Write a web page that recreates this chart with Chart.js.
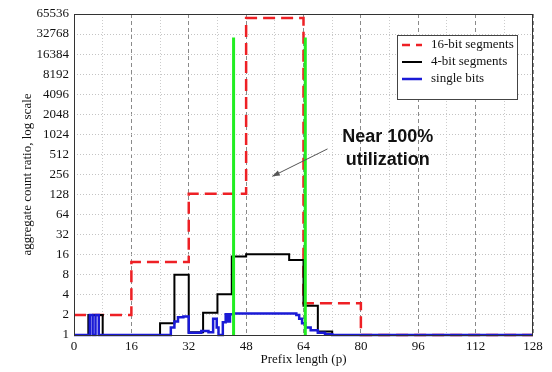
<!DOCTYPE html>
<html>
<head>
<meta charset="utf-8">
<script src="https://cdn.jsdelivr.net/npm/chart.js@4.4.1/dist/chart.umd.min.js"></script>
<style>
  html, body { margin: 0; padding: 0; background: #fff; }
  #wrap { width: 552px; height: 372px; }
</style>
</head>
<body>
<div id="wrap"><canvas id="prefixChart" width="552" height="372"></canvas></div>
<script>
// values: x = prefix length where a step starts, y = ratio
const yTicks = [1, 2, 4, 8, 16, 32, 64, 128, 256, 512, 1024, 2048, 4096, 8192, 16384, 32768, 65536];

const redX = [0, 16, 32, 48, 64, 80, 128];
const redY = [2, 12.5, 132, 57000, 3, 1, 1];

const blackX = [0, 4, 8, 24, 28, 32, 36, 40, 44, 48, 60, 64, 68, 72, 128];
const blackY = [1, 2, 1, 1.5, 8, 1.1, 2.15, 4.1, 15, 16.3, 13.3, 2.75, 1.13, 1, 1];

const blueX = [0, 4.4, 5.2, 6, 6.9, 27, 28, 29, 30.5, 32, 35.5, 37.5, 38.8, 39.8, 40.3, 41.5, 42.3, 43, 43.5, 44.5, 62, 62.8, 63.6, 64.5, 66, 68, 70, 72, 128];
const blueY = [1, 2, 1, 2, 1, 1.3, 1.6, 1.85, 1.9, 1.08, 1.15, 1.1, 1.75, 1.3, 1, 1.55, 2.05, 1.6, 2.05, 2.1, 2.0, 1.75, 1.5, 1.3, 1.18, 1.08, 1.03, 1, 1];

const greenX = [44.5, 64.5];
const greenTop = 29000;

const seriesNames = ['16-bit segments', '4-bit segments', 'single bits'];

function toPoints(xs, ys) {
    let pts = [];
    for (let i = 0; i < xs.length; i++) {
        pts.push({x: xs[i], y: ys[i]});
    }
    return pts;
}

const serif = 'Liberation Serif';

// frame round the plot area, legend box and the annotation
const extras = {
    id: 'extras',
    afterDatasetsDraw(chart) {
        const ctx = chart.ctx;
        const a = chart.chartArea;
        const xs = chart.scales.x;
        const ys = chart.scales.y;
        ctx.save();
        ctx.strokeStyle = '#333';
        ctx.lineWidth = 1;
        ctx.strokeRect(a.left + 0.5, a.top + 0.5, a.right - a.left - 1, a.bottom - a.top);

        // arrow
        const x0 = xs.getPixelForValue(70.7), y0 = ys.getPixelForValue(620);
        const x1 = xs.getPixelForValue(55.3), y1 = ys.getPixelForValue(240);
        ctx.strokeStyle = '#555';
        ctx.fillStyle = '#555';
        ctx.beginPath();
        ctx.moveTo(x0, y0);
        ctx.lineTo(x1, y1);
        ctx.stroke();
        const ang = Math.atan2(y1 - y0, x1 - x0);
        ctx.beginPath();
        ctx.moveTo(x1, y1);
        ctx.lineTo(x1 - 8 * Math.cos(ang - 0.35), y1 - 8 * Math.sin(ang - 0.35));
        ctx.lineTo(x1 - 8 * Math.cos(ang + 0.35), y1 - 8 * Math.sin(ang + 0.35));
        ctx.closePath();
        ctx.fill();

        ctx.fillStyle = '#111';
        ctx.font = 'bold 18px "Liberation Sans"';
        ctx.textAlign = 'center';
        ctx.textBaseline = 'middle';
        const tx = xs.getPixelForValue(87.5);
        ctx.fillText('Near 100%', tx, ys.getPixelForValue(920));
        ctx.fillText('utilization', tx, ys.getPixelForValue(425));

        // legend
        const lx = 397, ly = 35, lw = 120, lh = 64;
        ctx.fillStyle = '#fff';
        ctx.fillRect(lx, ly, lw, lh);
        ctx.strokeStyle = '#444';
        ctx.strokeRect(lx + 0.5, ly + 0.5, lw, lh);
        ctx.font = '13px "' + serif + '"';
        ctx.textAlign = 'left';
        for (let i = 0; i < 3; i++) {
            const ds = chart.data.datasets[i];
            const yy = ly + 10 + i * 17;
            ctx.strokeStyle = ds.borderColor;
            ctx.lineWidth = ds.borderWidth;
            ctx.setLineDash(i === 0 ? [8, 6] : []);
            ctx.beginPath();
            ctx.moveTo(lx + 5, yy);
            ctx.lineTo(lx + 25, yy);
            ctx.stroke();
            ctx.setLineDash([]);
            ctx.fillStyle = '#111';
            ctx.fillText(ds.label, lx + 34, yy);
        }
        ctx.restore();
    }
};

const ctx = document.getElementById('prefixChart').getContext('2d');

const chart = new Chart(ctx, {
    type: 'line',
    data: {
        datasets: [
            {
                label: seriesNames[0],
                data: toPoints(redX, redY),
                stepped: 'before',
                borderColor: '#ee2025',
                borderWidth: 2.5,
                borderDash: [12, 6],
                pointRadius: 0,
                fill: false,
                clip: 4,
                order: 3
            },
            {
                label: seriesNames[1],
                data: toPoints(blackX, blackY),
                stepped: 'before',
                borderColor: '#000000',
                borderWidth: 2,
                pointRadius: 0,
                fill: false,
                clip: 4,
                order: 2
            },
            {
                label: seriesNames[2],
                data: toPoints(blueX, blueY),
                stepped: 'before',
                borderColor: '#1a1ad6',
                borderWidth: 2.5,
                pointRadius: 0,
                fill: false,
                clip: 4,
                order: 1
            },
            {
                label: 'g1',
                data: [{x: greenX[0], y: 1}, {x: greenX[0], y: greenTop}],
                borderColor: '#22ee22',
                borderWidth: 3,
                pointRadius: 0,
                clip: 4,
                order: 0
            },
            {
                label: 'g2',
                data: [{x: greenX[1], y: 1}, {x: greenX[1], y: greenTop}],
                borderColor: '#22ee22',
                borderWidth: 3,
                pointRadius: 0,
                clip: 4,
                order: 0
            }
        ]
    },
    options: {
        responsive: false,
        animation: false,
        layout: {
            padding: {left: 0, top: 14, right: 19, bottom: 0}
        },
        plugins: {
            legend: {display: false},
            tooltip: {enabled: false}
        },
        scales: {
            x: {
                type: 'linear',
                min: 0,
                max: 128,
                afterFit: s => { s.height = 37; },
                ticks: {
                    stepSize: 8,
                    autoSkip: false,
                    maxRotation: 0,
                    padding: 4,
                    color: '#111',
                    font: {family: serif, size: 13},
                    callback: v => (v % 16 === 0 ? String(v) : '')
                },
                grid: {
                    drawTicks: false,
                    lineWidth: 1,
                    color: c => (c.tick && c.tick.value % 16 === 0 ? '#8a8a8a' : '#cccccc')
                },
                border: {
                    display: false,
                    dash: c => (c.tick && c.tick.value % 16 === 0 ? [4, 3] : [1, 2])
                },
                title: {
                    display: true,
                    text: 'Prefix length (p)',
                    color: '#111',
                    font: {family: serif, size: 13},
                    padding: {top: 0, bottom: 5}
                }
            },
            y: {
                type: 'logarithmic',
                min: 1,
                max: 65536,
                afterFit: s => { s.width = 74; },
                afterBuildTicks: s => { s.ticks = yTicks.map(v => ({value: v})); },
                ticks: {
                    padding: 5,
                    color: '#111',
                    font: {family: serif, size: 13},
                    callback: v => String(v)
                },
                grid: {
                    drawTicks: false,
                    lineWidth: 1,
                    color: '#c4c4c4'
                },
                border: {
                    display: false,
                    dash: [1, 2]
                },
                title: {
                    display: true,
                    text: 'aggregate count ratio, log scale',
                    color: '#111',
                    font: {family: serif, size: 13},
                    padding: {top: 20, bottom: 0}
                }
            }
        }
    },
    plugins: [extras]
});
</script>
</body>
</html>
